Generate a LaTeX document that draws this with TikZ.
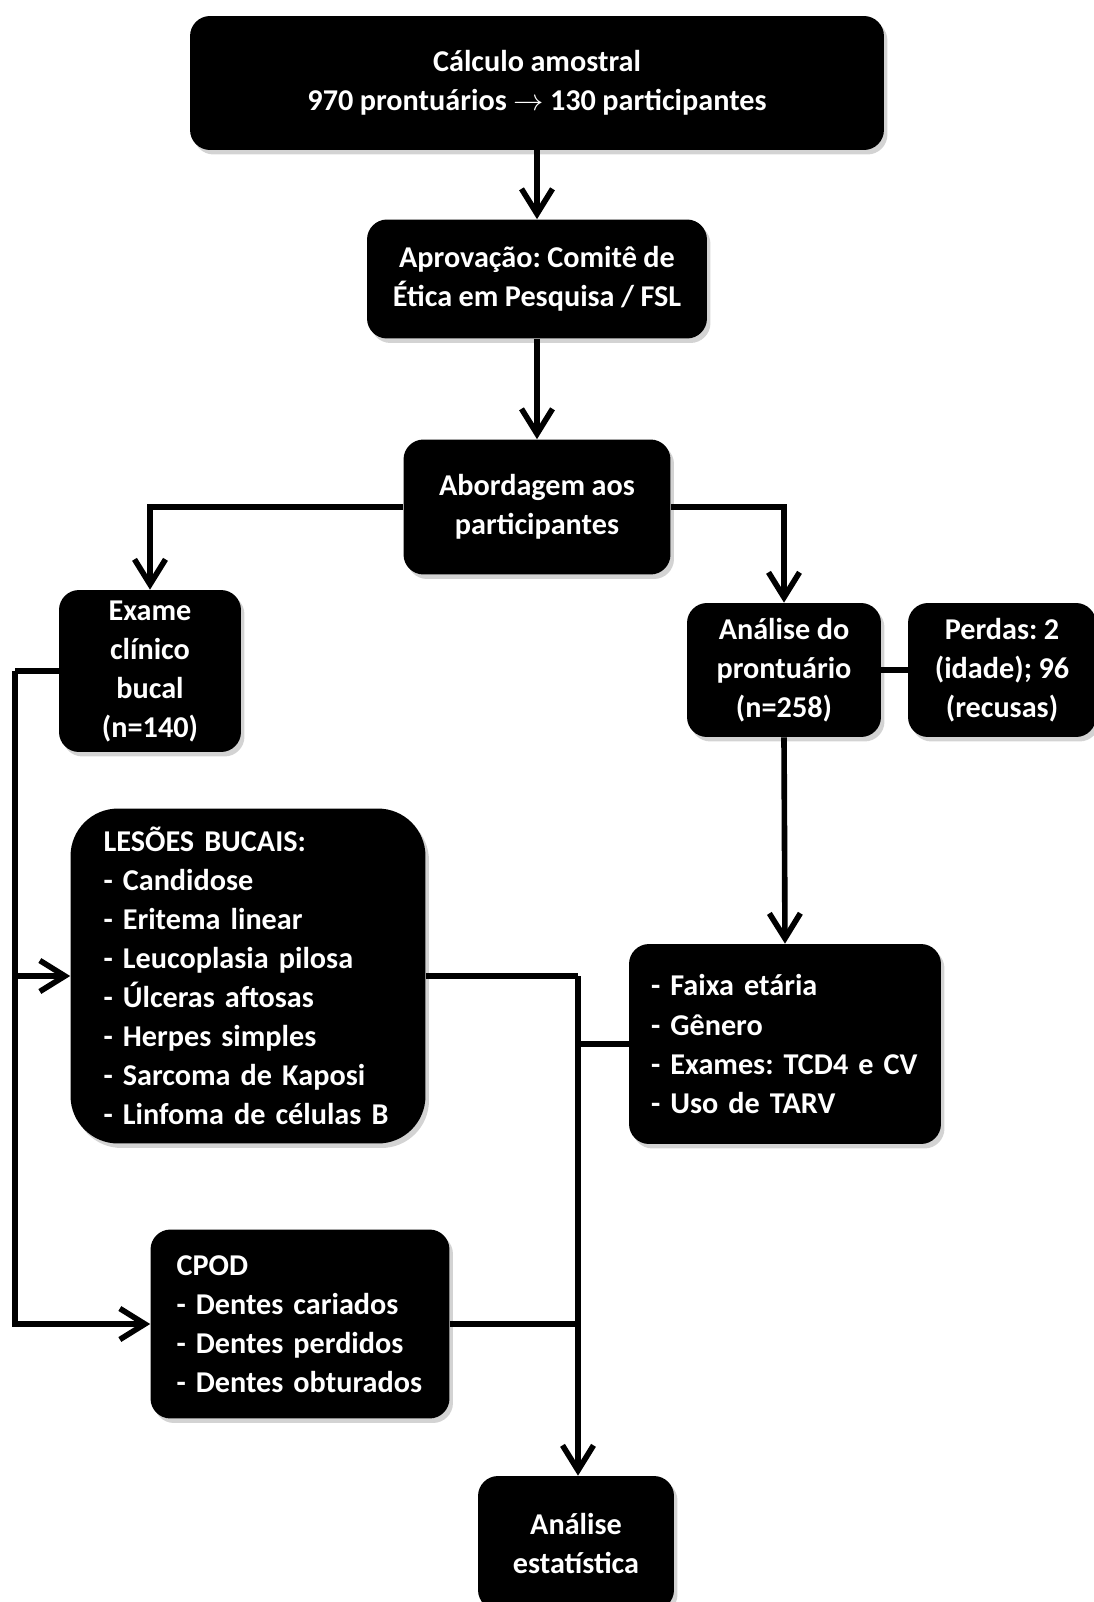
\documentclass[tikz,border=0pt]{standalone}
\usepackage{fontspec}
\setmainfont{Carlito}[WordSpace=0.95]
\usetikzlibrary{arrows.meta,shadows}

\begin{document}
\frenchspacing
\begin{tikzpicture}[x=0.02cm,y=-0.02cm,
    caixa/.style={fill=black,text=white,font=\bfseries\fontsize{17.2}{22.2}\selectfont,
        rounded corners=0.4cm,align=center,inner sep=0pt,
        drop shadow={shadow xshift=0.07cm,shadow yshift=-0.09cm,opacity=0.35}},
    lista/.style={caixa,align=left,inner xsep=0.52cm},
    linha/.style={line width=3.2pt},
    seta/.style={linha,-{Straight Barb[length=0.5cm,width=0.62cm,line width=3.2pt]}}]
    \useasboundingbox (0,0) rectangle (1094,1602);

    % Caixas
    \node[caixa,minimum width=13.88cm,minimum height=2.68cm] (calculo) at (537,83)
        {Cálculo amostral\\970 prontuários $\rightarrow$ 130 participantes};
    \node[caixa,minimum width=6.8cm,minimum height=2.38cm] (aprovacao) at (537,279)
        {Aprovação: Comitê de\\Ética em Pesquisa / FSL};
    \node[caixa,minimum width=5.34cm,minimum height=2.7cm] (abordagem) at (537,507)
        {Abordagem aos\\participantes};
    \node[caixa,minimum width=3.64cm,minimum height=3.24cm] (exame) at (150,671)
        {Exame\\clínico\\bucal\\(n=140)};
    \node[caixa,minimum width=3.88cm,minimum height=2.68cm] (prontuario) at (784,670)
        {Análise do\\prontuário\\(n=258)};
    \node[caixa,minimum width=3.76cm,minimum height=2.68cm] (perdas) at (1002,670)
        {Perdas: 2\\(idade); 96\\(recusas)};
    \node[lista,rounded corners=0.95cm,text width=5.78cm,inner xsep=0.66cm,minimum height=6.7cm] (lesoes) at (248,976)
        {LESÕES BUCAIS:\\- Candidose\\- Eritema linear\\- Leucoplasia pilosa\\- Úlceras aftosas\\- Herpes simples\\- Sarcoma de Kaposi\\- Linfoma de células B};
    \node[lista,text width=5.36cm,inner xsep=0.44cm,minimum height=4cm] (faixa) at (785,1044)
        {- Faixa etária\\- Gênero\\- Exames: TCD4 e CV\\- Uso de TARV};
    \node[lista,text width=4.94cm,minimum height=3.78cm] (cpod) at (300,1324)
        {CPOD\\- Dentes cariados\\- Dentes perdidos\\- Dentes obturados};
    \node[caixa,minimum width=3.92cm,minimum height=2.68cm] (estatistica) at (576,1543)
        {Análise\\estatística};

    % Pontos de junção
    \coordinate (esq) at (15,671);
    \coordinate (dir) at (578,976);

    % Conectores
    \draw[seta] (calculo) -- (aprovacao);
    \draw[seta] (aprovacao) -- (abordagem);
    \draw[seta] (abordagem.west) -| (exame.north);
    \draw[seta] (abordagem.east) -| (prontuario.north);
    \draw[linha] (prontuario.east) -- (perdas.west);
    \draw[seta] (prontuario.south) -- (faixa.north);
    \draw[linha] (exame.west) -- (esq);
    \draw[seta] (esq) |- (lesoes.west);
    \draw[seta] (esq) |- (cpod.west);
    \draw[linha] (lesoes.east) -- (dir);
    \draw[seta] (dir) -- (dir |- estatistica.north);
    \draw[linha] (faixa.west) -- (faixa.west -| dir);
    \draw[linha] (cpod.east) -- (cpod.east -| dir);
\end{tikzpicture}
\end{document}
